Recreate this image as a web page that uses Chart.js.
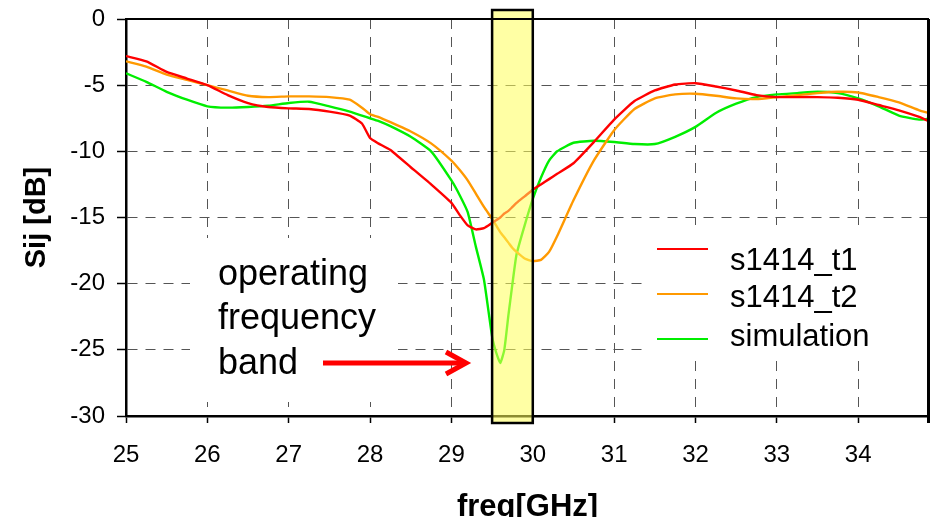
<!DOCTYPE html>
<html><head><meta charset="utf-8">
<script src="https://cdn.jsdelivr.net/npm/chart.js@4.4.1/dist/chart.umd.min.js"></script>
<style>html,body{margin:0;padding:0;background:#fff;overflow:hidden}#wrap{width:930px;height:517px;position:relative}</style>
</head><body><div id="wrap"><canvas id="c" width="930" height="517"></canvas></div>
<script>
const freq = [25,25.25,25.5,25.75, 26,26.25,26.5,26.75, 27,27.25,27.5,27.75,27.9, 28,28.1,28.25,28.5,28.75, 29,29.1,29.2,29.3,29.4, 29.5,29.55,29.6,29.65,29.7,29.75,29.8,29.9, 30,30.1,30.2,30.3,30.5,30.75, 31,31.25,31.5,31.75, 32,32.25,32.5,32.75, 33,33.25,33.5,33.75, 34,34.25,34.5,34.75,34.86,34.87];
const s1414_t1 = [-2.8,-3.2,-4.0,-4.5, -5.0,-5.75,-6.35,-6.65, -6.75,-6.8,-7.0,-7.3,-7.9, -9.0,-9.4,-9.9,-11.2,-12.5, -13.9,-14.8,-15.6,-15.9,-15.8, -15.4,-15.2,-15.0,-14.7,-14.5,-14.2,-13.9,-13.4, -12.9,-12.5,-12.1,-11.7,-10.9,-9.3, -7.6,-6.2,-5.4,-4.95, -4.85,-5.1,-5.4,-5.75, -5.9,-5.9,-5.9,-5.95, -6.1,-6.5,-6.9,-7.4,-7.7,null];
const s1414_t2 = [-3.2,-3.6,-4.2,-4.6, -5.0,-5.4,-5.8,-5.9, -5.85,-5.85,-5.9,-6.1,-6.7, -7.2,-7.4,-7.8,-8.5,-9.4, -10.7,-11.4,-12.2,-13.2,-14.2, -15.1,-15.6,-16.1,-16.5,-16.9,-17.3,-17.6,-18.1, -18.3,-18.2,-17.6,-16.4,-13.7,-10.7, -8.4,-6.8,-6.0,-5.7, -5.65,-5.8,-6.0,-6.05, -5.9,-5.75,-5.6,-5.5, -5.55,-5.9,-6.3,-6.9,-7.1,null];
const simulation = [-4.1,-4.75,-5.5,-6.1, -6.6,-6.7,-6.65,-6.55, -6.35,-6.25,-6.6,-7.0,-7.3, -7.5,-7.7,-8.1,-8.9,-10.0, -12.2,-13.3,-14.6,-17.2,-19.7, -24.0,-25.2,-26.0,-25.0,-22.4,-20.0,-17.8,-15.6, -13.6,-12.0,-10.7,-10.0,-9.35,-9.2, -9.3,-9.45,-9.45,-8.9, -8.15,-7.1,-6.4,-5.9, -5.7,-5.6,-5.5,-5.6, -6.0,-6.6,-7.3,-7.6,-7.5,0];
const seriesNames = ['s1414_t1','s1414_t2','simulation'];
const seriesColors = ['#ff0000','#ff9900','#00ee00'];
const xTickValues = [25,26,27,28,29,30,31,32,33,34];
const yTickValues = [-30,-25,-20,-15,-10,-5,0];
const xMin = 25, xMax = 34.87, yMin = -30, yMax = 0;
const bandStart = 29.5, bandEnd = 30.0;
const annotationLines = ['operating','frequency','band'];
const xTitle = 'freq[GHz]', yTitle = 'Sij [dB]';
const FONT = "'Liberation Sans', Arial, sans-serif";

const seriesValues = [s1414_t1, s1414_t2, simulation];
const datasets = seriesNames.map((name, i) => ({
  label: name,
  data: freq.map((f, k) => ({x: f, y: seriesValues[i][k]})),
  borderColor: seriesColors[i],
  backgroundColor: seriesColors[i],
  borderWidth: 2.4,
  pointRadius: 0,
  tension: 0.15,
  spanGaps: false
}));

const decor = {
  id: 'decor',
  beforeDatasetsDraw(chart) {
    const {ctx, chartArea: a} = chart;
    ctx.save();
    ctx.fillStyle = '#fff';
    ctx.fillRect(190, 238, 208, 164);      // annotation background
    ctx.fillRect(648, 225, a.right - 648, 133); // legend background
    ctx.restore();
  },
  afterDatasetsDraw(chart) {
    const {ctx, chartArea: a, scales: {x, y}} = chart;
    ctx.save();
    const x0 = x.getPixelForValue(bandStart), x1 = x.getPixelForValue(bandEnd);
    const y0 = a.top - 9, y1 = a.bottom + 7;
    ctx.fillStyle = 'rgba(255,255,90,0.55)';
    ctx.fillRect(x0, y0, x1 - x0, y1 - y0);
    ctx.strokeStyle = '#000';
    ctx.lineWidth = 2;
    ctx.beginPath(); ctx.moveTo(a.left, a.top); ctx.lineTo(a.right, a.top); ctx.stroke();
    ctx.lineWidth = 3;
    ctx.beginPath(); ctx.moveTo(a.right - 0.5, a.top); ctx.lineTo(a.right - 0.5, a.bottom + 7); ctx.stroke();
    ctx.lineWidth = 2.5;
    ctx.strokeRect(x0, y0, x1 - x0, y1 - y0);
    ctx.restore();
  },
  afterDraw(chart) {
    const {ctx} = chart;
    ctx.save();
    ctx.fillStyle = '#000';
    ctx.font = '36px ' + FONT;
    ctx.textAlign = 'left'; ctx.textBaseline = 'alphabetic';
    const bl = [285, 329, 374];
    annotationLines.forEach((t, i) => ctx.fillText(t, 218, bl[i]));
    ctx.strokeStyle = '#ff0000'; ctx.lineWidth = 5; ctx.lineCap = 'butt'; ctx.lineJoin = 'miter';
    ctx.beginPath(); ctx.moveTo(323, 363); ctx.lineTo(464, 363); ctx.stroke();
    ctx.beginPath(); ctx.moveTo(446, 352); ctx.lineTo(466, 363); ctx.lineTo(446, 374); ctx.stroke();
    const lineY = [249, 294, 339], textY = [270, 307, 346];
    ctx.font = '31px ' + FONT;
    chart.data.datasets.forEach((ds, i) => {
      ctx.strokeStyle = ds.borderColor; ctx.lineWidth = 2;
      ctx.beginPath(); ctx.moveTo(657, lineY[i]); ctx.lineTo(708, lineY[i]); ctx.stroke();
      ctx.fillStyle = '#000';
      ctx.fillText(ds.label, 730, textY[i]);
    });
    ctx.restore();
  }
};

new Chart(document.getElementById('c'), {
  type: 'line',
  data: {datasets},
  options: {
    responsive: false,
    animation: false,
    devicePixelRatio: 1,
    layout: {padding: {top: 19, right: 1, left: 0, bottom: 0}},
    plugins: {legend: {display: false}, tooltip: {enabled: false}},
    scales: {
      x: {
        type: 'linear', min: xMin, max: xMax,
        afterBuildTicks: s => { s.ticks = xTickValues.map(v => ({value: v})); },
        afterFit: s => { s.height = 101; s.paddingLeft = 0; s.paddingRight = 0; },
        grid: {
          color: c => (c.tick && c.tick.value === xMin) ? 'rgba(0,0,0,0)' : '#555',
          lineWidth: 1, tickLength: 7, tickColor: '#000', tickWidth: 1.5, drawTicks: true
        },
        border: {display: true, color: '#000', width: 2.5, dash: [10, 8]},
        ticks: {color: '#000', font: {family: FONT, size: 24}, padding: 18, maxRotation: 0, autoSkip: false},
        title: {display: true, text: xTitle, color: '#000', font: {family: FONT, size: 31, weight: 'bold', lineHeight: 1}, padding: {top: 0, bottom: -6}}
      },
      y: {
        type: 'linear', min: yMin, max: yMax,
        afterBuildTicks: s => { s.ticks = yTickValues.map(v => ({value: v})); },
        afterFit: s => { s.width = 126; s.paddingTop = 0; s.paddingBottom = 0; },
        grid: {
          color: c => (c.tick && (c.tick.value === yMin || c.tick.value === yMax)) ? 'rgba(0,0,0,0)' : '#555',
          lineWidth: 1, tickLength: 9, tickColor: '#000', tickWidth: 1.5, drawTicks: true
        },
        border: {display: true, color: '#000', width: 2.5, dash: [10, 8]},
        ticks: {color: '#000', font: {family: FONT, size: 24}, padding: 12},
        title: {display: true, text: yTitle, color: '#000', font: {family: FONT, size: 29, weight: 'bold', lineHeight: 1}, padding: {top: 22, bottom: 0}}
      }
    }
  },
  plugins: [decor]
});
</script></body></html>
